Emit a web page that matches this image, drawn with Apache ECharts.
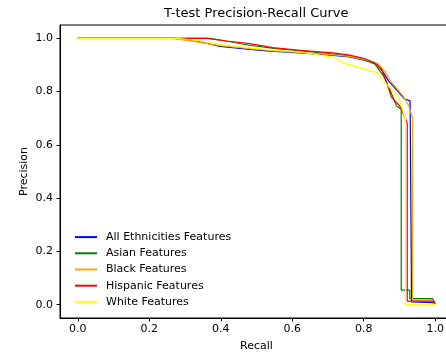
<!DOCTYPE html>
<html>
<head>
<meta charset="utf-8">
<script src="https://cdn.jsdelivr.net/npm/echarts@6/dist/echarts.min.js"></script>
<style>
  html, body { margin: 0; padding: 0; background: #fff; }
  #chart { width: 446px; height: 353px; }
</style>
</head>
<body>
<div id="chart"></div>
<script>
// 曲线数据 (recall / precision)
const seriesNames = ['All Ethnicities Features', 'Asian Features', 'Black Features', 'Hispanic Features', 'White Features']
const seriesColors = ['#0000ff', '#008000', '#ffa500', '#ff0000', '#ffff00']

const allRecall = [0, 0.27, 0.3, 0.342, 0.398, 0.482, 0.538, 0.622, 0.7, 0.76, 0.81, 0.836, 0.855, 0.869, 0.915, 0.93, 0.934, 0.934, 0.995, 1.0]
const allPrecision = [1, 1, 0.995, 0.987, 0.97, 0.958, 0.952, 0.945, 0.938, 0.93, 0.915, 0.904, 0.872, 0.841, 0.772, 0.765, 0.76, 0.01, 0.008, 0.002]

const asianRecall = [0, 0.37, 0.426, 0.48, 0.55, 0.622, 0.7, 0.752, 0.8, 0.831, 0.855, 0.873, 0.892, 0.905, 0.905, 0.929, 0.929, 0.993, 1.0]
const asianPrecision = [1, 1, 0.987, 0.974, 0.962, 0.953, 0.943, 0.935, 0.92, 0.904, 0.86, 0.809, 0.746, 0.734, 0.055, 0.055, 0.023, 0.023, 0.005]

const blackRecall = [0, 0.26, 0.3, 0.35, 0.4, 0.48, 0.55, 0.62, 0.7, 0.76, 0.81, 0.84, 0.86, 0.875, 0.91, 0.925, 0.937, 0.937, 0.993, 1.0]
const blackPrecision = [1, 1, 0.993, 0.983, 0.972, 0.962, 0.953, 0.947, 0.94, 0.932, 0.918, 0.905, 0.875, 0.84, 0.784, 0.75, 0.7, 0.017, 0.017, 0.0]

const hispanicRecall = [0, 0.36, 0.417, 0.48, 0.546, 0.622, 0.714, 0.757, 0.8, 0.827, 0.85, 0.864, 0.878, 0.901, 0.92, 0.922, 0.922, 0.995, 1.0]
const hispanicPrecision = [1, 1, 0.99, 0.98, 0.965, 0.955, 0.945, 0.938, 0.925, 0.91, 0.885, 0.835, 0.778, 0.746, 0.69, 0.68, 0.013, 0.013, 0.003]

const whiteRecall = [0, 0.28, 0.342, 0.398, 0.482, 0.55, 0.622, 0.714, 0.752, 0.79, 0.836, 0.868, 0.897, 0.911, 0.917, 0.917, 1.0]
const whitePrecision = [1, 1, 0.99, 0.977, 0.964, 0.956, 0.949, 0.929, 0.904, 0.889, 0.872, 0.822, 0.784, 0.72, 0.7, 0.0, 0.0]

const tickValues = [0, 0.2, 0.4, 0.6, 0.8, 1.0]

const curves = [
  [allRecall, allPrecision],
  [asianRecall, asianPrecision],
  [blackRecall, blackPrecision],
  [hispanicRecall, hispanicPrecision],
  [whiteRecall, whitePrecision]
]

const font = 'DejaVu Sans'
const chart = echarts.init(document.getElementById('chart'))

const axisCommon = {
  type: 'value',
  min: -0.05,
  max: 1.05,
  axisLine: { show: true, onZero: false, lineStyle: { color: '#000', width: 1 } },
  axisTick: { show: true, inside: false, length: 3.5, customValues: tickValues, lineStyle: { color: '#000' } },
  axisLabel: { customValues: tickValues, color: '#000', fontFamily: font, fontSize: 11, formatter: v => v.toFixed(1) },
  splitLine: { show: false },
  nameLocation: 'middle',
  nameMoveOverlap: false,
  nameTextStyle: { color: '#000', fontFamily: font, fontSize: 11 }
}

chart.setOption({
  animation: false,
  backgroundColor: '#fff',
  title: {
    text: 'T-test Precision-Recall Curve',
    left: 164,
    top: 7,
    padding: 0,
    textStyle: { color: '#000', fontFamily: font, fontSize: 13, fontWeight: 'normal' }
  },
  grid: {
    left: 60,
    width: 393,
    top: 25,
    bottom: 35,
    outerBoundsMode: 'none',
    containLabel: false,
    show: true,
    borderColor: '#000',
    borderWidth: 1
  },
  legend: {
    orient: 'vertical',
    left: 75,
    top: 229,
    padding: 0,
    itemWidth: 22,
    itemHeight: 2,
    itemGap: 0,
    icon: 'rect',
    data: seriesNames,
    textStyle: { color: '#000', fontFamily: font, fontSize: 11, lineHeight: 16.2, padding: [0, 0, 0, 4] }
  },
  xAxis: Object.assign({}, axisCommon, { name: 'Recall', nameGap: 23, axisLabel: Object.assign({}, axisCommon.axisLabel, { margin: 6 }) }),
  yAxis: Object.assign({}, axisCommon, { name: 'Precision', nameGap: 30, axisLabel: Object.assign({}, axisCommon.axisLabel, { margin: 7 }) }),
  series: curves.map((c, i) => ({
    name: seriesNames[i],
    type: 'line',
    symbol: 'none',
    color: seriesColors[i],
    lineStyle: { width: 1.2, color: seriesColors[i] },
    data: c[0].map((r, j) => [r, c[1][j]])
  }))
})
</script>
</body>
</html>
